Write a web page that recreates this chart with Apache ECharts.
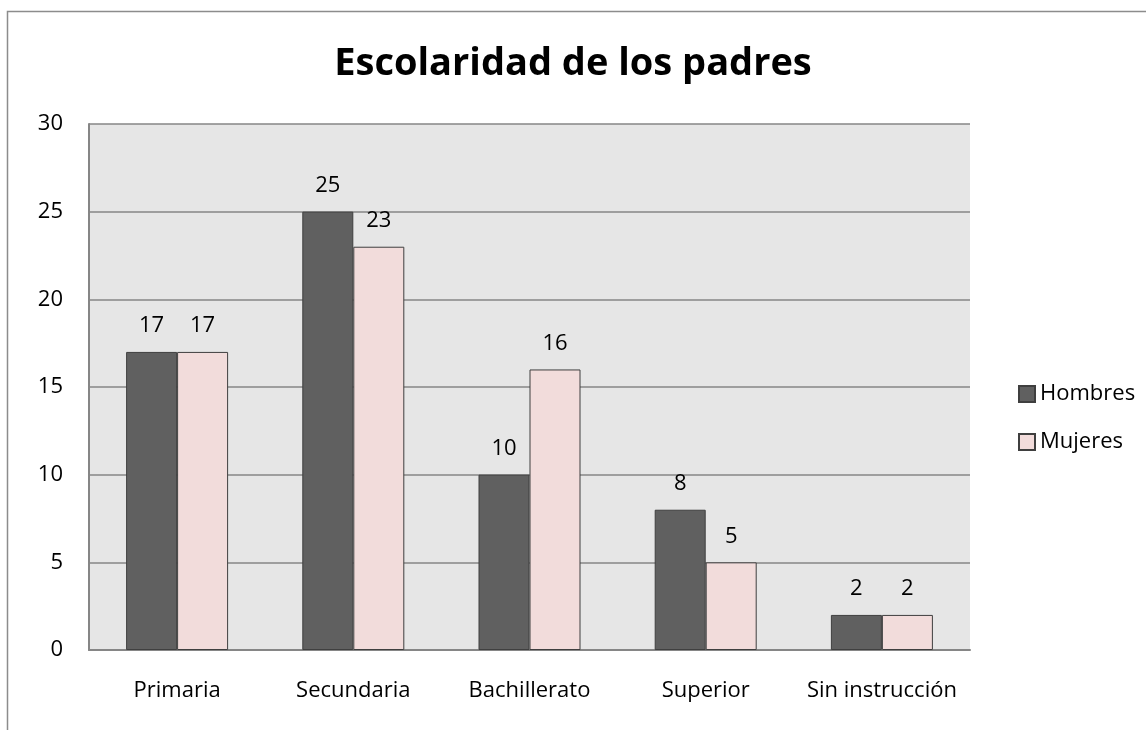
<!DOCTYPE html>
<html>
<head>
<meta charset="utf-8">
<script src="https://cdn.jsdelivr.net/npm/echarts@6/dist/echarts.min.js"></script>
<style>
  html, body { margin: 0; padding: 0; background: #fff; }
  #chart { width: 1146px; height: 730px; }
</style>
</head>
<body>
<div id="chart"></div>
<script>
// datos
var categorias = ['Primaria', 'Secundaria', 'Bachillerato', 'Superior', 'Sin instrucción']
var hombres = [17, 25, 10, 8, 2]
var mujeres = [17, 23, 16, 5, 2]

var chart = echarts.init(document.getElementById('chart'))
var fuente = '"Open Sans", "Noto Sans", sans-serif'

var etiqueta = {
  show: true,
  position: 'top',
  distance: 15,
  color: '#000',
  fontSize: 22,
  fontFamily: fuente
}

var option = {
  animation: false,
  textStyle: { fontFamily: fuente },
  title: {
    text: 'Escolaridad de los padres',
    left: 568,
    top: 40,
    textAlign: 'center',
    textStyle: { fontSize: 38, fontWeight: 'bold', color: '#000', fontFamily: fuente }
  },
  graphic: [{
    type: 'rect',
    shape: { x: 7.5, y: 11.5, width: 1200, height: 800 },
    style: { fill: 'none', stroke: '#8c8c8c', lineWidth: 1.5 },
    silent: true
  }],
  legend: {
    orient: 'vertical',
    left: 1013,
    top: 378,
    itemWidth: 16,
    itemHeight: 16,
    itemGap: 26,
    icon: 'rect',
    textStyle: { fontSize: 22, color: '#000', fontFamily: fuente, padding: [0, 0, 0, 0] },
    data: ['Hombres', 'Mujeres']
  },
  grid: {
    left: 89,
    right: 176,
    top: 124,
    bottom: 80,
    show: true,
    backgroundColor: '#e6e6e6',
    borderWidth: 0
  },
  xAxis: {
    type: 'category',
    data: categorias,
    axisLine: { lineStyle: { color: '#868686', width: 2 } },
    axisTick: { show: false },
    axisLabel: { interval: 0, color: '#000', fontSize: 22, margin: 30, fontFamily: fuente }
  },
  yAxis: {
    type: 'value',
    min: 0,
    max: 30,
    interval: 5,
    axisLine: { show: true, lineStyle: { color: '#868686', width: 2 } },
    axisTick: { show: false },
    splitLine: { lineStyle: { color: '#868686', width: 1.5 } },
    axisLabel: { color: '#000', fontSize: 22, margin: 26, fontFamily: fuente }
  },
  series: [
    {
      name: 'Hombres',
      type: 'bar',
      data: hombres,
      barWidth: 51,
      barGap: '0%',
      itemStyle: { color: '#606060', borderColor: '#3f3f3f', borderWidth: 1 },
      label: etiqueta
    },
    {
      name: 'Mujeres',
      type: 'bar',
      data: mujeres,
      barWidth: 51,
      itemStyle: { color: '#f2dcdb', borderColor: '#3f3f3f', borderWidth: 1 },
      label: etiqueta
    }
  ]
}

chart.setOption(option)
</script>
</body>
</html>
